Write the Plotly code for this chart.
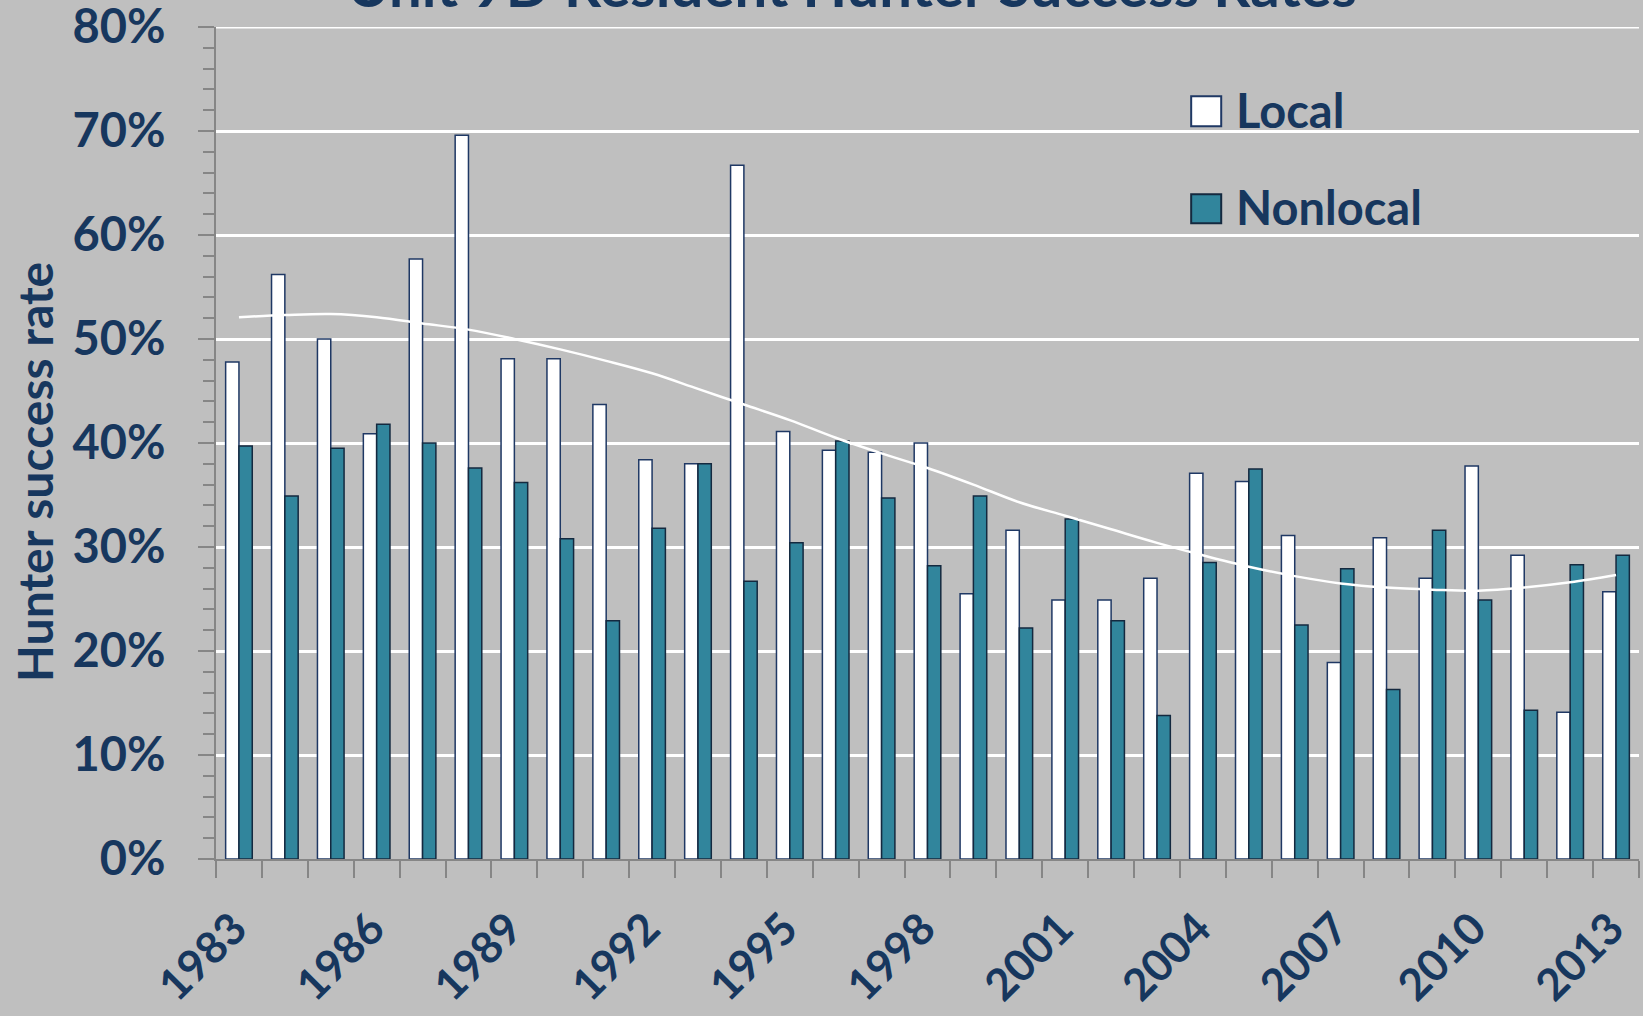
import plotly.graph_objects as go

# ---------------- data ----------------
years = list(range(1983, 2014))
local = [47.8, 56.2, 50.0, 40.9, 57.7, 69.6, 48.1, 48.1, 43.7, 38.4,
         38.0, 66.7, 41.1, 39.3, 39.1, 40.0, 25.5, 31.6, 24.9, 24.9,
         27.0, 37.1, 36.3, 31.1, 18.9, 30.9, 27.0, 37.8, 29.2, 14.1, 25.7]
nonlocal_rate = [39.7, 34.9, 39.5, 41.8, 40.0, 37.6, 36.2, 30.8, 22.9, 31.8,
                 38.0, 26.7, 30.4, 40.2, 34.7, 28.2, 34.9, 22.2, 32.7, 22.9,
                 13.8, 28.5, 37.5, 22.5, 27.9, 16.3, 31.6, 24.9, 14.3, 28.3, 29.2]
trend = [52.1, 52.3, 52.4, 52.1, 51.5, 50.9, 50.0, 49.0, 47.9, 46.7,
         45.2, 43.7, 42.2, 40.5, 39.0, 37.6, 36.0, 34.3, 33.0, 31.7,
         30.4, 29.2, 28.1, 27.2, 26.5, 26.1, 25.9, 25.8, 26.1, 26.6, 27.3]
label_years = [1983, 1986, 1989, 1992, 1995, 1998, 2001, 2004, 2007, 2010, 2013]
y_ticks = [0, 10, 20, 30, 40, 50, 60, 70, 80]
series_names = ["Local", "Nonlocal"]
title_text = "Unit 9D Resident Hunter Success Rates"
y_title = "Hunter success rate"

# ---------------- style ----------------
BG = "#BFBFBF"
NAVY = "#17375E"
TEAL = "#31859C"
AXIS = "#868686"
FONT = "Lato"

fig = go.Figure()
fig.add_trace(go.Bar(x=years, y=local, name=series_names[0],
                     marker=dict(color="white", line=dict(color="#1F3864", width=1.5)),
                     hoverinfo="skip"))
fig.add_trace(go.Bar(x=years, y=nonlocal_rate, name=series_names[1],
                     marker=dict(color=TEAL, line=dict(color="#14293F", width=1.5)),
                     hoverinfo="skip"))
fig.add_trace(go.Scatter(x=years, y=trend, mode="lines",
                         line=dict(color="white", width=2.5, shape="spline"),
                         hoverinfo="skip", showlegend=False))

fig.update_layout(
    width=1643, height=1016, autosize=False,
    paper_bgcolor=BG, plot_bgcolor=BG,
    margin=dict(l=216, r=4, t=27, b=157, pad=0, autoexpand=False),
    barmode="group", bargap=0.42, bargroupgap=0,
    showlegend=False,
    font=dict(family=FONT, color=NAVY),
    title=dict(text=title_text, font=dict(size=58, weight=700, color=NAVY, family=FONT),
               xref="container", x=852 / 1643, xanchor="center",
               yref="container", y=1 - 7 / 1016, yanchor="bottom", automargin=False),
)

fig.update_xaxes(
    type="linear", range=[1982.5, 2013.5], automargin=False,
    tickmode="array", tickvals=label_years, ticktext=[str(v) for v in label_years],
    tickangle=-45, tickfont=dict(size=44, weight=700, color=NAVY, family=FONT),
    ticks="outside", ticklen=24, tickcolor="rgba(0,0,0,0)",
    ticklabelshift=-5, ticklabeloverflow="allow",
    minor=dict(tick0=1982.5, dtick=1, ticks="outside", ticklen=17,
               tickcolor=AXIS, tickwidth=1.5, showgrid=False),
    showline=True, linecolor=AXIS, linewidth=2,
    showgrid=False, zeroline=False,
)
fig.update_yaxes(
    range=[0, 80], automargin=False, tickmode="array", tickvals=y_ticks,
    ticktext=[f"{v}%" for v in y_ticks],
    tickfont=dict(size=47, weight=700, color=NAVY, family=FONT),
    ticks="outside", ticklen=16, tickcolor=AXIS, tickwidth=1.5,
    ticklabelstandoff=23, ticklabeloverflow="allow",
    minor=dict(dtick=2, ticks="outside", ticklen=11, tickcolor=AXIS, tickwidth=1.5, showgrid=False),
    showline=True, linecolor=AXIS, linewidth=2,
    showgrid=True, gridcolor="white", gridwidth=3, zeroline=False,
)

# top gridline at the upper range limit
fig.add_shape(type="line", xref="paper", yref="y", x0=0, x1=1, y0=y_ticks[-1], y1=y_ticks[-1],
              line=dict(color="white", width=3), layer="below")

# y-axis title
fig.add_annotation(text=y_title, xref="paper", yref="paper", x=-0.1281, y=0.4649,
                   xanchor="center", yanchor="middle", textangle=-90, showarrow=False,
                   font=dict(size=48, weight=700, color=NAVY, family=FONT))

# custom legend (large square keys)
legend_items = [(series_names[0], "white", "#1F3864", 0.8807, 0.9168, 0.900),
                (series_names[1], TEAL, "#14293F", 0.7642, 0.7991, 0.7834)]
for name, fill, edge, y0, y1, yt in legend_items:
    fig.add_shape(type="rect", xref="paper", yref="paper",
                  x0=0.6853, x1=0.7064, y0=y0, y1=y1,
                  fillcolor=fill, line=dict(color=edge, width=2))
    fig.add_annotation(text=name, xref="paper", yref="paper", x=0.7155, y=yt,
                       xanchor="left", yanchor="middle", showarrow=False,
                       font=dict(size=47, weight=700, color=NAVY, family=FONT))

fig.write_html("out.html", config={"displayModeBar": False},
               post_script="document.body.style.margin='0';document.body.style.overflow='hidden';")
